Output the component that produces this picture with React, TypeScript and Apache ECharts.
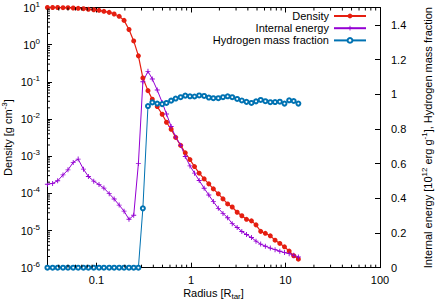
import React, { useEffect, useRef } from 'react';
import * as echarts from 'echarts';

const radius = [0.0303,0.0344,0.0389,0.0443,0.0500,0.0568,0.0641,0.0729,0.0822,0.0937,0.1065,0.120,0.1365,0.154,0.174,0.196,0.221,0.248,0.278,0.310,0.351,0.390,0.440,0.496,0.551,0.617,0.689,0.778,0.871,0.976,1.091,1.222,1.379,1.545,1.726,1.948,2.183,2.444,2.733,3.083,3.453,3.869,4.365,4.880,5.467,6.124,6.911,7.759,8.713,9.761,10.94,12.22,13.69];

const density = [10.0,10.0,10.0,9.9,9.9,9.7,9.5,9.3,8.95,8.7,8.4,7.9,7.4,6.7,5.8,4.5,2.56,1.26,0.50,0.127,0.058,0.034,0.0216,0.0134,0.0082,0.0053,0.0032,0.00195,0.00123,0.00081,0.000525,0.000349,0.000245,0.00018,0.000132,9.7e-5,7.1e-5,5.2e-5,4.3e-5,3.1e-5,2.5e-5,2.0e-5,1.82e-5,1.42e-5,9.5e-6,8.4e-6,7.2e-6,5.5e-6,4.5e-6,3.65e-6,2.8e-6,2.1e-6,1.7e-6];

const internalEnergy = [0.481,0.486,0.501,0.535,0.564,0.607,0.626,0.568,0.526,0.499,0.479,0.459,0.427,0.396,0.361,0.326,0.279,0.302,0.600,1.072,1.132,1.088,1.024,0.953,0.886,0.814,0.753,0.706,0.641,0.587,0.545,0.503,0.458,0.419,0.381,0.342,0.313,0.288,0.254,0.232,0.209,0.191,0.174,0.153,0.136,0.124,0.113,0.104,0.095,0.087,0.081,0.072,0.062];

const hydrogenFraction = [0,0,0,0,0,0,0,0,0,0,0,0,0,0,0,0,0,0,0,0.342,0.932,0.953,0.946,0.943,0.950,0.963,0.975,0.983,0.992,0.988,0.987,0.993,0.990,0.981,0.977,0.977,0.983,0.988,0.983,0.973,0.964,0.956,0.950,0.959,0.967,0.960,0.954,0.955,0.957,0.946,0.965,0.961,0.946];

const seriesNames = ['Density', 'Internal energy', 'Hydrogen mass fraction'];
const xTickLabels = ['0.1', '1', '10', '100'];
const minorMantissas = [2, 3, 4, 5, 6, 7, 8, 9];
const xDecades = [0.01, 0.1, 1, 10];
const yDecades = [1e-6, 1e-5, 1e-4, 1e-3, 1e-2, 1e-1, 1];

const X_MIN = 0.03, X_MAX = 100, Y_MIN = 1e-6, Y_MAX = 10;
const RED = '#e51e10', PURPLE = '#9400d3', BLUE = '#0072b2';
const FONT = '"Liberation Sans", Arial, sans-serif';

export default function App() {
  const ref = useRef<HTMLDivElement>(null);
  useEffect(() => {
    if (!ref.current) return;
    const chart = echarts.init(ref.current, undefined, { renderer: 'svg' });
    const xMinor: number[] = [];
    xDecades.forEach(d => minorMantissas.forEach(m => { const v = d * m; if (v > X_MIN * 1.0001 && v < X_MAX) xMinor.push(v); }));
    const yMinor: number[] = [];
    yDecades.forEach(d => minorMantissas.forEach(m => { const v = d * m; if (v > Y_MIN && v < Y_MAX) yMinor.push(v); }));
    const tickStyle = { stroke: '#000', lineWidth: 1 };
    const pts = (ys: number[]) => radius.map((r, i) => [r, ys[i]]);
    const supRich = { sup: { fontSize: 8, lineHeight: 8, verticalAlign: 'top' as const, fontFamily: FONT, color: '#000' } };
    const subRich = { sub: { fontSize: 8, lineHeight: 8, verticalAlign: 'bottom' as const, fontFamily: FONT, color: '#000' } };
    chart.setOption({
      animation: false,
      backgroundColor: '#fff',
      textStyle: { fontFamily: FONT },
      grid: { left: 47, right: 56, top: 7.5, bottom: 35.3, containLabel: false, outerBoundsMode: 'none' },
      legend: seriesNames.map((n, i) => ({
        data: [n], right: 69, top: 10.5 + i * 12.2, align: 'right', orient: 'horizontal',
        itemWidth: 32, itemHeight: 6, itemGap: 0, padding: 0, selectedMode: false,
        textStyle: { fontSize: 11, color: '#000', fontFamily: FONT },
      })),
      xAxis: [
        {
          type: 'log', min: X_MIN, max: X_MAX, logBase: 10,
          name: 'Radius [R{sub|tar}]', nameLocation: 'middle', nameGap: 17, nameMoveOverlap: false,
          nameTextStyle: { fontSize: 11, color: '#000', fontFamily: FONT, lineHeight: 16, rich: subRich },
          axisLine: { show: true, lineStyle: { color: '#000', width: 1 } },
          axisTick: { show: true, inside: true, length: 5, lineStyle: { color: '#000' } },
          axisLabel: {
            show: true, margin: 7, fontSize: 11, color: '#000', fontFamily: FONT, showMinLabel: false,
            formatter: (v: number) => {
              const e = Math.round(Math.log10(v));
              const lbl = xTickLabels[e + 1];
              return Math.abs(Math.log10(v) - e) < 1e-6 && lbl ? lbl : '';
            },
          },
          splitLine: { show: false },
        },
        {
          type: 'log', min: X_MIN, max: X_MAX, logBase: 10, position: 'top',
          axisLine: { show: true, lineStyle: { color: '#000', width: 1 } },
          axisTick: { show: true, inside: true, length: 5, lineStyle: { color: '#000' } },
          axisLabel: { show: false },
          splitLine: { show: false },
        },
      ],
      yAxis: [
        {
          type: 'log', min: Y_MIN, max: Y_MAX, logBase: 10,
          name: 'Density [g cm{sup|-3}]', nameLocation: 'middle', nameGap: 31, nameRotate: 90, nameMoveOverlap: false,
          nameTextStyle: { fontSize: 11, color: '#000', fontFamily: FONT, lineHeight: 16, rich: supRich },
          axisLine: { show: true, lineStyle: { color: '#000', width: 1 } },
          axisTick: { show: true, inside: true, length: 5, lineStyle: { color: '#000' } },
          axisLabel: {
            margin: 7, fontSize: 11, color: '#000', fontFamily: FONT, lineHeight: 15, rich: supRich,
            formatter: (v: number) => '10{sup|' + Math.round(Math.log10(v)) + '}',
          },
          splitLine: { show: false },
        },
        {
          type: 'value', min: 0, max: 1.5, interval: 0.2, position: 'right',
          name: 'Internal energy [10{sup|12} erg g{sup|-1}], Hydrogen mass fraction', nameLocation: 'middle', nameGap: 40, nameRotate: 90, nameMoveOverlap: false,
          nameTextStyle: { fontSize: 11, color: '#000', fontFamily: FONT, lineHeight: 16, rich: supRich },
          axisLine: { show: true, lineStyle: { color: '#000', width: 1 } },
          axisTick: { show: true, inside: true, length: 5, lineStyle: { color: '#000' } },
          axisLabel: {
            margin: 11, fontSize: 11, color: '#000', fontFamily: FONT, showMaxLabel: false,
            formatter: (v: number) => String(Math.round(v * 10) / 10),
          },
          splitLine: { show: false },
        },
      ],
      series: [
        {
          name: seriesNames[0], type: 'line', xAxisIndex: 0, yAxisIndex: 0, data: pts(density),
          symbol: 'circle', symbolSize: 5, showAllSymbol: true, clip: false,
          lineStyle: { color: RED, width: 1.2 }, itemStyle: { color: RED },
        },
        {
          name: seriesNames[1], type: 'line', xAxisIndex: 0, yAxisIndex: 1, data: pts(internalEnergy),
          symbol: 'path://M-1,-0.18 L-0.18,-0.18 L-0.18,-1 L0.18,-1 L0.18,-0.18 L1,-0.18 L1,0.18 L0.18,0.18 L0.18,1 L-0.18,1 L-0.18,0.18 L-1,0.18 Z',
          symbolSize: 5, showAllSymbol: true, clip: false,
          lineStyle: { color: PURPLE, width: 1 }, itemStyle: { color: PURPLE },
        },
        {
          name: seriesNames[2], type: 'line', xAxisIndex: 0, yAxisIndex: 1, data: pts(hydrogenFraction),
          symbol: 'emptyCircle', symbolSize: 4, showAllSymbol: true, clip: false,
          lineStyle: { color: BLUE, width: 1 }, itemStyle: { color: BLUE, borderWidth: 1 },
        },
        {
          type: 'custom', xAxisIndex: 0, yAxisIndex: 0, silent: true, clip: false, z: 10,
          data: xMinor.map(v => [v, 1]),
          renderItem: (_p: any, api: any) => {
            const v = api.value(0);
            const b = api.coord([v, Y_MIN]);
            const t = api.coord([v, Y_MAX]);
            return {
              type: 'group', children: [
                { type: 'line', shape: { x1: b[0], y1: b[1], x2: b[0], y2: b[1] - 3 }, style: tickStyle },
                { type: 'line', shape: { x1: t[0], y1: t[1], x2: t[0], y2: t[1] + 3 }, style: tickStyle },
              ],
            };
          },
        },
        {
          type: 'custom', xAxisIndex: 0, yAxisIndex: 0, silent: true, clip: false, z: 10,
          data: yMinor.map(v => [1, v]),
          renderItem: (_p: any, api: any) => {
            const v = api.value(1);
            const l = api.coord([X_MIN, v]);
            return { type: 'line', shape: { x1: l[0], y1: l[1], x2: l[0] + 3, y2: l[1] }, style: tickStyle };
          },
        },
      ],
    });
    return () => chart.dispose();
  }, []);
  return <div ref={ref} style={{ position: 'absolute', left: 0, top: 0, width: 436, height: 303, background: '#fff' }} />;
}
